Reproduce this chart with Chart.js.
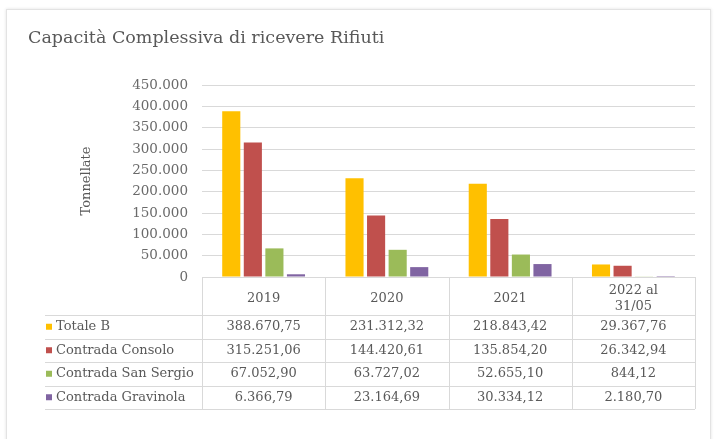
<!DOCTYPE html>
<html>
<head>
<meta charset="utf-8">
<script src="https://cdn.jsdelivr.net/npm/chart.js@4"></script>
<style>
  body { margin: 0; background: #fff; }
  #cornice {
    position: absolute; left: 6px; top: 9px; width: 703px; height: 440px;
    border: 1px solid #e3e3e3; box-shadow: 0 0 3px rgba(0,0,0,0.12);
  }
  #grafico { position: absolute; left: 0; top: 0; }
</style>
</head>
<body>
<div id="cornice"></div>
<canvas id="grafico" width="715" height="439"></canvas>
<script>
const anni = ["2019", "2020", "2021", ["2022 al", "31/05"]];
const totaleB = [388670.75, 231312.32, 218843.42, 29367.76];
const consolo = [315251.06, 144420.61, 135854.2, 26342.94];
const sanSergio = [67052.9, 63727.02, 52655.1, 844.12];
const gravinola = [6366.79, 23164.69, 30334.12, 2180.7];

const serie = [
  { label: "Totale B", data: totaleB, colore: "#FFC000" },
  { label: "Contrada Consolo", data: consolo, colore: "#C0504D" },
  { label: "Contrada San Sergio", data: sanSergio, colore: "#9BBB59" },
  { label: "Contrada Gravinola", data: gravinola, colore: "#8064A2" },
];

const FONT = "'DejaVu Serif', 'Liberation Serif', serif";
const GRIGIO = "#595959";
const LINEA = "#d9d9d9";

// formato italiano: 388.670,75
function formatta(v, dec) {
  const parti = v.toFixed(dec).split(".");
  const intero = parti[0].replace(/\B(?=(\d{3})+(?!\d))/g, ".");
  return dec > 0 ? intero + "," + parti[1] : intero;
}

// tabella dati sotto l'asse x
const tabellaDati = {
  id: "tabellaDati",
  afterDraw(chart) {
    const ctx = chart.ctx;
    const xs = chart.scales.x;
    const area = chart.chartArea;
    const n = anni.length;
    const larg = (xs.right - xs.left) / n;
    const top = xs.bottom;
    const altRiga = 23.5;
    const fondo = top + altRiga * serie.length;
    const sinistra = 45;

    ctx.save();
    ctx.strokeStyle = LINEA;
    ctx.lineWidth = 1;

    for (let i = 0; i <= n; i++) {
      const x = Math.round(xs.left + i * larg) + 0.5;
      ctx.beginPath();
      ctx.moveTo(x, area.bottom);
      ctx.lineTo(x, fondo);
      ctx.stroke();
    }
    for (let r = 0; r <= serie.length; r++) {
      const y = Math.round(top + r * altRiga) + 0.5;
      ctx.beginPath();
      ctx.moveTo(sinistra, y);
      ctx.lineTo(xs.right, y);
      ctx.stroke();
    }

    ctx.font = "13px " + FONT;
    ctx.textBaseline = "middle";
    serie.forEach((s, r) => {
      const yc = top + r * altRiga + altRiga / 2;
      ctx.fillStyle = s.colore;
      ctx.fillRect(sinistra + 1, yc - 3, 6, 6);
      ctx.fillStyle = GRIGIO;
      ctx.textAlign = "left";
      ctx.fillText(s.label, sinistra + 11, yc);
      ctx.textAlign = "center";
      s.data.forEach((v, i) => {
        ctx.fillText(formatta(v, 2), xs.getPixelForValue(i), yc);
      });
    });
    ctx.restore();
  },
};

const ctx = document.getElementById("grafico").getContext("2d");
const chart = new Chart(ctx, {
  type: "bar",
  data: {
    labels: anni,
    datasets: serie.map((s) => ({
      label: s.label,
      data: s.data,
      backgroundColor: s.colore,
      categoryPercentage: 0.7,
      barPercentage: 0.84,
    })),
  },
  options: {
    responsive: false,
    devicePixelRatio: 1,
    animation: false,
    layout: {
      padding: { left: 28, right: 20, top: 0, bottom: 124 },
    },
    plugins: {
      legend: { display: false },
      tooltip: { enabled: false },
      title: {
        display: true,
        text: "Capacità Complessiva di ricevere Rifiuti",
        align: "start",
        color: GRIGIO,
        font: { family: FONT, size: 17.5, weight: "normal" },
        padding: { top: 28, bottom: 36 },
      },
    },
    scales: {
      x: {
        grid: { display: false },
        border: { display: false },
        ticks: {
          color: GRIGIO,
          font: { family: FONT, size: 13 },
          padding: 6,
          crossAlign: "center",
          maxRotation: 0,
        },
        afterFit(scale) {
          scale.height = 38;
        },
      },
      y: {
        min: 0,
        max: 450000,
        grid: { color: LINEA, drawTicks: false },
        border: { display: false },
        ticks: {
          stepSize: 50000,
          color: "#6a6a6a",
          font: { family: FONT, size: 13.5 },
          padding: 14,
          callback: (v) => formatta(v, 0),
        },
        title: {
          display: true,
          text: "Tonnellate",
          color: GRIGIO,
          font: { family: FONT, size: 13 },
          padding: { top: 51 },
        },
        afterFit(scale) {
          scale.width = 174;
        },
      },
    },
  },
  plugins: [tabellaDati],
});
</script>
</body>
</html>
